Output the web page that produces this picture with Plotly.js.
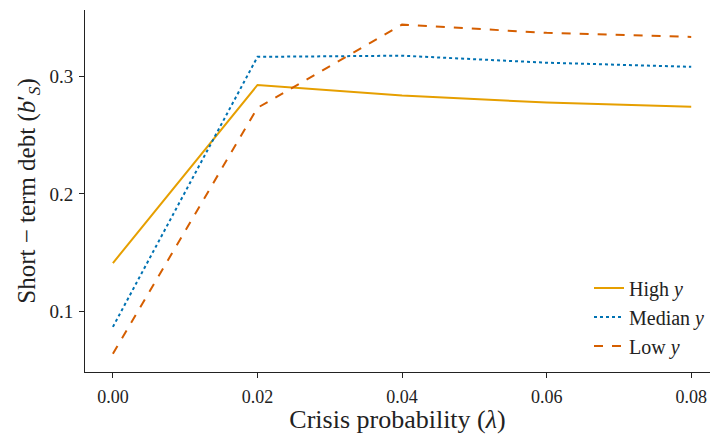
<!DOCTYPE html>
<html><head><meta charset="utf-8">
<script src="https://cdn.plot.ly/plotly-3.0.1.min.js"></script>
<style>html,body{margin:0;padding:0;background:#fff}</style>
</head><body><div id="chart" style="width:711px;height:434px"></div>
<script>
const lambdaVals = [0.00, 0.02, 0.04, 0.06, 0.08];
const highY = [0.141, 0.293, 0.284, 0.278, 0.2745];
const medianY = [0.0865, 0.317, 0.318, 0.312, 0.3085];
const lowY = [0.0635, 0.2735, 0.3445, 0.3375, 0.334];
const seriesNames = ['High <i>y</i>', 'Median <i>y</i>', 'Low <i>y</i>'];
const xTicks = [0.00, 0.02, 0.04, 0.06, 0.08];
const xTickText = ['0.00', '0.02', '0.04', '0.06', '0.08'];
const yTicks = [0.1, 0.2, 0.3];
const yTickText = ['0.1', '0.2', '0.3'];

const font = "'Liberation Serif', 'Times New Roman', serif";
const traces = [
  {x: lambdaVals, y: highY, name: seriesNames[0], mode: 'lines', line: {color: '#E69F00', width: 2, dash: 'solid'}},
  {x: lambdaVals, y: medianY, name: seriesNames[1], mode: 'lines', line: {color: '#0072B2', width: 2, dash: 'dot'}},
  {x: lambdaVals, y: lowY, name: seriesNames[2], mode: 'lines', line: {color: '#D55E00', width: 2, dash: 'dash'}}
];
const layout = {
  width: 711, height: 434,
  margin: {l: 85, r: 1, t: 10, b: 62},
  paper_bgcolor: '#fff', plot_bgcolor: '#fff',
  font: {family: font, size: 19, color: '#222'},
  showlegend: true,
  legend: {x: 1, xanchor: 'right', y: 0.018, yanchor: 'bottom', itemwidth: 30, font: {family: font, size: 20, color: '#222'}, bgcolor: 'rgba(0,0,0,0)', tracegroupgap: 0},
  xaxis: {
    range: [-0.00386, 0.0826], tickvals: xTicks, ticktext: xTickText,
    showgrid: false, zeroline: false, showline: true, linecolor: '#222', linewidth: 1,
    ticks: 'outside', ticklen: 5, tickcolor: '#222', ticklabelstandoff: 3,
    tickfont: {family: font, size: 18, color: '#222'},
    title: {text: 'Crisis probability (<i>λ</i>)', font: {family: font, size: 26, color: '#222'}, standoff: 12}
  },
  yaxis: {
    range: [0.048, 0.357], tickvals: yTicks, ticktext: yTickText,
    showgrid: false, zeroline: false, showline: true, linecolor: '#222', linewidth: 1,
    ticks: 'outside', ticklen: 5, tickcolor: '#222', ticklabelstandoff: 2,
    title: {text: 'Short − term debt (<i>b</i>′<sub><i>S</i></sub>)', font: {family: font, size: 25, color: '#222'}, standoff: 6}
  }
};
Plotly.newPlot('chart', traces, layout, {displayModeBar: false, staticPlot: true});
</script></body></html>
